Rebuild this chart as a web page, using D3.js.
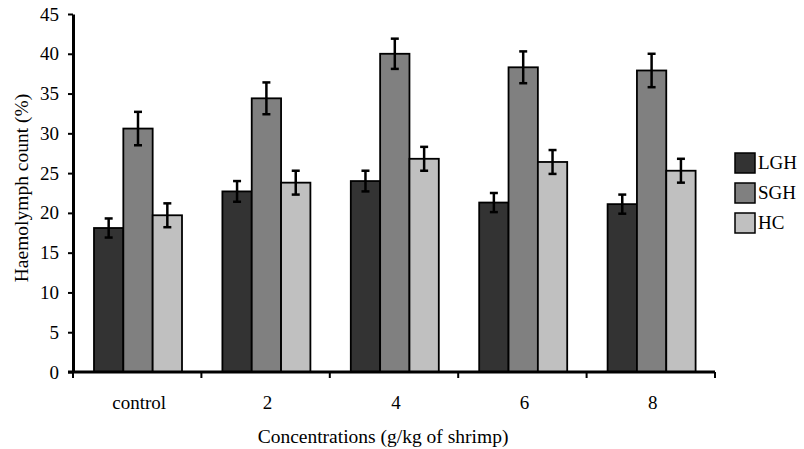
<!DOCTYPE html>
<html>
<head>
<meta charset="utf-8">
<script src="https://cdn.jsdelivr.net/npm/d3@7"></script>
<style>
  body { margin: 0; background: #fff; }
  svg text { font-family: "Liberation Serif", "Times New Roman", serif; fill: #000; }
</style>
</head>
<body>
<svg id="chart" width="804" height="449" font-family="Liberation Serif"></svg>
<script>
const categories = ["control", "2", "4", "6", "8"];
const series = ["LGH", "SGH", "HC"];
const colors = ["#333333", "#808080", "#c0c0c0"];

// means, one array per series
const lgh = [18.1, 22.7, 24.0, 21.3, 21.1];
const sgh = [30.6, 34.4, 40.0, 38.3, 37.9];
const hc = [19.7, 23.8, 26.8, 26.4, 25.3];

// error bar half-lengths
const lghErr = [1.2, 1.3, 1.3, 1.2, 1.2];
const sghErr = [2.1, 2.0, 1.9, 2.0, 2.1];
const hcErr = [1.5, 1.5, 1.5, 1.5, 1.5];

const yTicks = [0, 5, 10, 15, 20, 25, 30, 35, 40, 45];

const values = [lgh, sgh, hc];
const errors = [lghErr, sghErr, hcErr];
const serif = "Liberation Serif, Times New Roman, serif";

let svg = d3.select("#chart");

let x = d3.scaleBand().domain(categories).range([73, 715]);
let x1 = d3.scaleBand().domain(series).range([21, 109]);
let y = d3.scaleLinear().domain([0, 45]).range([372, 14]);

let rows = [];
categories.forEach((c, i) => {
  series.forEach((s, j) => {
    rows.push({ cat: c, s: s, v: values[j][i], e: errors[j][i], color: colors[j] });
  });
});

// bars
svg.append("g")
  .selectAll("rect")
  .data(rows)
  .enter()
  .append("rect")
  .attr("x", (d) => x(d.cat) + x1(d.s))
  .attr("y", (d) => y(d.v))
  .attr("width", x1.bandwidth())
  .attr("height", (d) => y(0) - y(d.v))
  .attr("fill", (d) => d.color)
  .attr("stroke", "#000")
  .attr("stroke-width", 1.8);

// error bars
let err = svg.append("g").attr("stroke", "#000").attr("stroke-width", 2.5);
rows.forEach((d) => {
  let cx = x(d.cat) + x1(d.s) + x1.bandwidth() / 2;
  err.append("line")
    .attr("x1", cx).attr("x2", cx)
    .attr("y1", y(d.v + d.e)).attr("y2", y(d.v - d.e));
  [d.v + d.e, d.v - d.e].forEach((t) => {
    err.append("line")
      .attr("x1", cx - 4).attr("x2", cx + 4)
      .attr("y1", y(t)).attr("y2", y(t));
  });
});

// y axis
let yAxis = svg.append("g")
  .attr("transform", "translate(73,0)")
  .call(d3.axisLeft(y).tickValues(yTicks).tickSize(5).tickPadding(9).tickSizeOuter(0));
yAxis.attr("font-family", serif).attr("font-size", 19);
yAxis.select(".domain").attr("stroke-width", 3);
yAxis.selectAll(".tick line").attr("stroke-width", 2);
yAxis.selectAll("text").attr("font-size", 19);

// x axis: line, boundary ticks, category labels
svg.append("line")
  .attr("x1", 68).attr("x2", 715)
  .attr("y1", y(0)).attr("y2", y(0))
  .attr("stroke", "#000").attr("stroke-width", 3);

let bounds = categories.map((c) => x(c)).concat([x.range()[1]]);
svg.append("g")
  .selectAll("line")
  .data(bounds)
  .enter()
  .append("line")
  .attr("x1", (d) => d).attr("x2", (d) => d)
  .attr("y1", y(0)).attr("y2", y(0) + 6)
  .attr("stroke", "#000").attr("stroke-width", 2);

svg.append("g")
  .selectAll("text")
  .data(categories)
  .enter()
  .append("text")
  .attr("x", (d) => x(d) + x.bandwidth() / 2 + 2)
  .attr("y", 409)
  .attr("text-anchor", "middle")
  .attr("font-size", 19)
  .text((d) => d);

// axis titles
svg.append("text")
  .attr("x", 383)
  .attr("y", 443)
  .attr("text-anchor", "middle")
  .attr("font-size", 19.5)
  .text("Concentrations (g/kg of shrimp)");

svg.append("text")
  .attr("transform", "translate(28,188) rotate(-90)")
  .attr("text-anchor", "middle")
  .attr("font-size", 19.5)
  .text("Haemolymph count (%)");

// legend
let legend = svg.append("g")
  .selectAll("g")
  .data(series)
  .enter()
  .append("g")
  .attr("transform", (d, i) => `translate(735,${153 + i * 30})`);

legend.append("rect")
  .attr("width", 20).attr("height", 20)
  .attr("fill", (d, i) => colors[i])
  .attr("stroke", "#000").attr("stroke-width", 1.5);

legend.append("text")
  .attr("x", 23)
  .attr("y", 16)
  .attr("font-size", 19)
  .text((d) => d);
</script>
</body>
</html>
